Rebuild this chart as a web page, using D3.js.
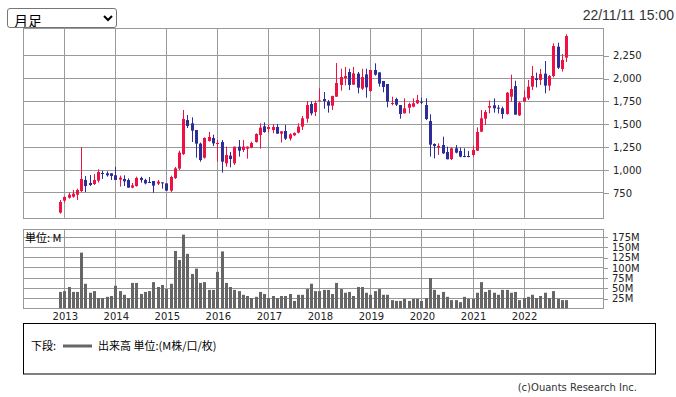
<!DOCTYPE html>
<html>
  <head>
    <meta charset="utf-8">
    <script src="https://d3js.org/d3.v7.min.js"></script>
    <title>月足チャート</title>
    <style>
      body {
        margin: 0;
        background: #fff;
      }
      #wrap {
        position: relative;
        width: 676px;
        height: 397px;
      }
      #chart {
        position: absolute;
        left: 0;
        top: 0;
      }
      #period {
        position: absolute;
        left: 7px;
        top: 8px;
        width: 110px;
        height: 20px;
        padding: 0 0 0 2px;
        font-size: 14px;
        font-family: "Noto Sans CJK JP", sans-serif;
        border: 1px solid #767676;
        border-radius: 3px;
        background: #fff;
        color: #000;
      }
      svg text {
        font-family: "DejaVu Sans", sans-serif;
        font-size: 10px;
        fill: #222;
      }
      .domain {
        display: none;
      }
      .tick line, .grid {
        stroke: #999;
        shape-rendering: crispEdges;
      }
      .jp {
        font-family: "Noto Sans CJK JP", sans-serif !important;
        fill: #000 !important;
      }
    </style>
  </head>
  <body>
    <div id="wrap">
      <svg id="chart" width="676" height="397"></svg>
      <select id="period"><option>月足</option></select>
    </div>
    <script>
      // monthly candles, Dec 2012 .. Nov 2022
      const months = d3.timeMonth.range(new Date(2012, 11, 1), new Date(2022, 11, 1));

      const open = [
        529, 660, 692, 703, 725, 765, 886, 853, 842, 879, 962, 959,
        959, 937, 889, 897, 886, 802, 820, 908, 886, 864, 875, 846,
        860, 849, 769, 907, 1010, 1170, 1541, 1505, 1432, 1283, 1130, 1312,
        1345, 1279, 1301, 1068, 1152, 1068, 1250, 1214, 1228, 1239, 1301, 1377,
        1472, 1443, 1432, 1465, 1392, 1421, 1338, 1374, 1403, 1469, 1556, 1716,
        1629, 1745, 1771, 1742, 1698, 1796, 1924, 2000, 2066, 1928, 2048, 1884,
        2040, 1858, 2088, 2062, 1968, 1935, 1720, 1771, 1705, 1614, 1676, 1687,
        1724, 1742, 1705, 1530, 1279, 1239, 1268, 1192, 1115, 1232, 1203, 1148,
        1148, 1159, 1206, 1414, 1556, 1676, 1702, 1676, 1669, 1607, 1796, 1913,
        1592, 1742, 1778, 1906, 1997, 1979, 2048, 1917, 2022, 2343, 2099, 2223
      ];
      const high = [
        667, 707, 747, 776, 791, 1246, 929, 940, 951, 1002, 988, 980,
        959, 1028, 933, 937, 904, 853, 922, 922, 900, 918, 875, 886,
        860, 849, 933, 1028, 1206, 1651, 1596, 1571, 1432, 1294, 1352, 1410,
        1381, 1323, 1323, 1250, 1192, 1250, 1323, 1323, 1252, 1305, 1396, 1505,
        1516, 1487, 1494, 1498, 1418, 1487, 1396, 1406, 1505, 1585, 1749, 1745,
        1753, 1888, 1847, 1760, 1807, 2164, 2102, 2121, 2102, 2121, 2066, 2102,
        2102, 2088, 2161, 2062, 1968, 1935, 1796, 1785, 1705, 1778, 1731, 1778,
        1815, 1785, 1778, 1603, 1286, 1286, 1359, 1250, 1243, 1268, 1239, 1232,
        1203, 1261, 1461, 1651, 1651, 1753, 1778, 1705, 1687, 1847, 2037, 1971,
        1742, 1862, 1979, 2132, 2059, 2099, 2186, 2033, 2379, 2387, 2263, 2478
      ];
      const low = [
        518, 638, 682, 692, 667, 754, 754, 820, 831, 857, 897, 922,
        886, 886, 813, 820, 802, 795, 813, 857, 838, 857, 747, 831,
        791, 769, 754, 897, 995, 1159, 1454, 1301, 1130, 1086, 1119, 1305,
        1257, 1086, 966, 1031, 1024, 1050, 1141, 1192, 1119, 1232, 1294, 1228,
        1403, 1403, 1396, 1392, 1294, 1323, 1316, 1367, 1396, 1432, 1512, 1592,
        1585, 1745, 1665, 1622, 1651, 1796, 1862, 1920, 1869, 1924, 1833, 1869,
        1785, 1851, 2026, 1906, 1844, 1680, 1702, 1694, 1556, 1614, 1614, 1680,
        1716, 1716, 1541, 1141, 1122, 1159, 1170, 1112, 1104, 1177, 1134, 1134,
        1134, 1141, 1206, 1410, 1487, 1614, 1622, 1614, 1556, 1600, 1742, 1600,
        1585, 1742, 1760, 1869, 1898, 1924, 1833, 1862, 2008, 2099, 2070, 2175
      ];
      const close = [
        645, 700, 725, 736, 776, 897, 820, 831, 886, 973, 951, 937,
        930, 886, 911, 871, 802, 827, 908, 886, 849, 857, 824, 868,
        853, 769, 918, 1013, 1185, 1553, 1476, 1425, 1283, 1104, 1345, 1356,
        1286, 1290, 1086, 1159, 1115, 1250, 1206, 1250, 1250, 1290, 1388, 1458,
        1410, 1465, 1465, 1392, 1418, 1338, 1385, 1399, 1469, 1560, 1705, 1614,
        1727, 1756, 1749, 1698, 1804, 1946, 2011, 2022, 1924, 2051, 1895, 2011,
        1898, 2088, 2037, 1939, 1902, 1742, 1727, 1709, 1607, 1669, 1716, 1724,
        1760, 1735, 1552, 1272, 1257, 1257, 1177, 1112, 1232, 1185, 1141, 1141,
        1141, 1214, 1410, 1560, 1629, 1694, 1669, 1665, 1607, 1840, 1880, 1600,
        1731, 1789, 1906, 2022, 1979, 2044, 1917, 2022, 2350, 2113, 2197, 2459
      ];
      // volume, millions
      const volume = [
        40, 42, 52, 40, 40, 136, 60, 38, 42, 25, 25, 28,
        30, 55, 42, 33, 25, 62, 62, 35, 40, 42, 64, 52,
        57, 47, 60, 140, 118, 180, 133, 84, 97, 62, 64, 45,
        45, 89, 139, 62, 52, 45, 42, 33, 30, 25, 28, 40,
        35, 25, 30, 25, 30, 30, 35, 18, 33, 33, 47, 60,
        42, 42, 45, 45, 35, 62, 47, 38, 40, 30, 52, 52,
        38, 33, 42, 47, 33, 33, 20, 18, 18, 23, 18, 23,
        23, 18, 25, 74, 45, 33, 40, 28, 20, 20, 15, 28,
        23, 23, 38, 64, 40, 45, 38, 33, 45, 45, 38, 40,
        20, 25, 28, 33, 25, 30, 38, 25, 42, 23, 20, 20
      ];

      const yearTicks = [2013, 2014, 2015, 2016, 2017, 2018, 2019, 2020, 2021, 2022];
      const priceTicks = [750, 1000, 1250, 1500, 1750, 2000, 2250];
      const volumeTicks = [25, 50, 75, 100, 125, 150, 175];

      const upColor = '#ee1144';
      const downColor = '#2d2d99';

      const candles = months.map((m, i) => ({
        date: m, open: open[i], high: high[i], low: low[i], close: close[i], volume: volume[i]
      }));

      const left = 23.5, right = 603.5;
      const priceTop = 28.5, priceBottom = 218.5;
      const volTop = 229.5, volBottom = 308.5;

      const svg = d3.select('#chart');

      const xScale = d3.scaleTime()
        .domain([new Date(2012, 2, 13), new Date(2023, 6, 25)])
        .range([23.2, 603.2]);
      const yPrice = d3.scaleLinear().domain([467, 2547]).range([218.3, 28]);
      const yVol = d3.scaleLinear().domain([0, 193]).range([308.3, 229.3]);

      const px = d => Math.round(xScale(d));
      const yearDates = yearTicks.map(y => new Date(y, 0, 1));

      svg.append('text')
        .attr('x', 674)
        .attr('y', 20)
        .attr('text-anchor', 'end')
        .style('font-family', '"Liberation Sans", Arial, sans-serif')
        .style('font-size', '14px')
        .style('fill', '#333')
        .text('22/11/11 15:00');

      // price panel
      const priceG = svg.append('g');
      priceG.selectAll('.hgrid').data(priceTicks)
        .enter().append('line')
          .attr('class', 'grid')
          .attr('x1', left).attr('x2', right)
          .attr('y1', d => Math.round(yPrice(d)) + 0.5)
          .attr('y2', d => Math.round(yPrice(d)) + 0.5);
      priceG.selectAll('.vgrid').data(yearDates)
        .enter().append('line')
          .attr('class', 'grid')
          .attr('x1', d => px(d) + 0.5).attr('x2', d => px(d) + 0.5)
          .attr('y1', priceTop).attr('y2', priceBottom);
      priceG.append('rect')
        .attr('class', 'grid')
        .attr('x', left).attr('y', priceTop)
        .attr('width', right - left).attr('height', priceBottom - priceTop)
        .attr('fill', 'none');

      const priceAxis = d3.axisRight(yPrice)
        .tickValues(priceTicks)
        .tickFormat(d3.format(','))
        .tickSize(6)
        .tickPadding(4);
      priceG.append('g')
        .attr('transform', `translate(${right - 0.5},0.5)`)
        .call(priceAxis);

      priceG.selectAll('.wick').data(candles)
        .enter().append('line')
          .attr('x1', d => px(d.date) + 0.5).attr('x2', d => px(d.date) + 0.5)
          .attr('y1', d => yPrice(d.high)).attr('y2', d => yPrice(d.low))
          .attr('stroke', d => d.close >= d.open ? upColor : downColor)
          .attr('stroke-width', 1);
      priceG.selectAll('.body').data(candles)
        .enter().append('rect')
          .attr('x', d => px(d.date) - 1)
          .attr('width', 3)
          .attr('y', d => yPrice(Math.max(d.open, d.close)))
          .attr('height', d => Math.max(1, yPrice(Math.min(d.open, d.close)) - yPrice(Math.max(d.open, d.close))))
          .attr('fill', d => d.close >= d.open ? upColor : downColor);

      // volume panel
      const volG = svg.append('g');
      volG.selectAll('.hgrid').data(volumeTicks)
        .enter().append('line')
          .attr('class', 'grid')
          .attr('x1', left).attr('x2', right)
          .attr('y1', d => Math.round(yVol(d)) + 0.5)
          .attr('y2', d => Math.round(yVol(d)) + 0.5);
      volG.selectAll('.vgrid').data(yearDates)
        .enter().append('line')
          .attr('class', 'grid')
          .attr('x1', d => px(d) + 0.5).attr('x2', d => px(d) + 0.5)
          .attr('y1', volTop).attr('y2', volBottom);
      volG.append('rect')
        .attr('class', 'grid')
        .attr('x', left).attr('y', volTop)
        .attr('width', right - left).attr('height', volBottom - volTop)
        .attr('fill', 'none');

      volG.selectAll('.bar').data(candles)
        .enter().append('rect')
          .attr('x', d => px(d.date) - 1)
          .attr('width', 3)
          .attr('y', d => yVol(d.volume))
          .attr('height', d => yVol(0) - yVol(d.volume))
          .attr('fill', '#666');

      const volAxis = d3.axisRight(yVol)
        .tickValues(volumeTicks)
        .tickFormat(d => d + 'M')
        .tickSize(5)
        .tickPadding(4);
      volG.append('g')
        .attr('transform', `translate(${right - 0.5},0.5)`)
        .call(volAxis);

      volG.append('text')
        .attr('class', 'jp')
        .attr('x', 25)
        .attr('y', 242)
        .style('font-size', '11px')
        .text('単位: M');

      const xAxis = d3.axisBottom(xScale)
        .tickValues(yearDates)
        .tickFormat(d3.timeFormat('%Y'))
        .tickSize(0)
        .tickPadding(4);
      svg.append('g')
        .attr('transform', `translate(0.5,${volBottom})`)
        .call(xAxis);

      // legend
      const legend = svg.append('g');
      legend.append('rect')
        .attr('x', 23.5).attr('y', 323.5)
        .attr('width', 632).attr('height', 50.5)
        .attr('fill', '#fff')
        .attr('stroke', '#000');
      legend.append('text')
        .attr('class', 'jp')
        .attr('x', 31)
        .attr('y', 350)
        .style('font-size', '11px')
        .text('下段:');
      legend.append('line')
        .attr('x1', 63).attr('x2', 92)
        .attr('y1', 346).attr('y2', 346)
        .attr('stroke', '#666')
        .attr('stroke-width', 3);
      legend.append('text')
        .attr('class', 'jp')
        .attr('x', 98)
        .attr('y', 350)
        .style('font-size', '11px')
        .text('出来高 単位:(M株/口/枚)');

      svg.append('text')
        .attr('x', 637)
        .attr('y', 391)
        .attr('text-anchor', 'end')
        .style('font-size', '10px')
        .style('fill', '#333')
        .text('(c)Ouants Research Inc.');
    </script>
  </body>
</html>
